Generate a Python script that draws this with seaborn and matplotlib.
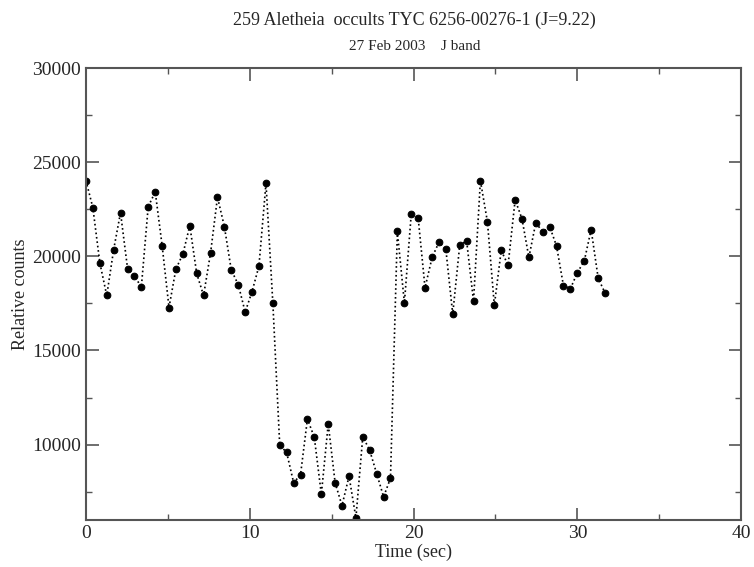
import numpy as np
import pandas as pd
import matplotlib
matplotlib.use("Agg")
import matplotlib.pyplot as plt
from matplotlib.ticker import MultipleLocator
import seaborn as sns

# occultation light curve
time_sec = [0.00, 0.42, 0.85, 1.27, 1.69, 2.11, 2.54, 2.96, 3.38, 3.80,
            4.23, 4.65, 5.07, 5.49, 5.92, 6.34, 6.76, 7.18, 7.61, 8.03,
            8.45, 8.87, 9.30, 9.72, 10.14, 10.56, 10.99, 11.41, 11.83, 12.25,
            12.68, 13.10, 13.52, 13.94, 14.37, 14.79, 15.21, 15.63, 16.06, 16.48,
            16.90, 17.32, 17.75, 18.17, 18.59, 19.01, 19.44, 19.86, 20.28, 20.70,
            21.13, 21.55, 21.97, 22.39, 22.82, 23.24, 23.66, 24.08, 24.51, 24.93,
            25.35, 25.77, 26.20, 26.62, 27.04, 27.46, 27.89, 28.31, 28.73, 29.15,
            29.58, 30.00, 30.42, 30.84, 31.27, 31.69]
counts = [24020, 22590, 19640, 17920, 20350, 22320, 19350, 18980, 18350, 22640,
          23420, 20570, 17280, 19320, 20130, 21630, 19090, 17920, 20200, 23140,
          21580, 19280, 18490, 17040, 18130, 19480, 23880, 17500, 9960, 9590,
          7970, 8410, 11360, 10390, 7360, 11100, 7980, 6760, 8320, 6110,
          10430, 9700, 8450, 7230, 8210, 21320, 17520, 22270, 22040, 18330,
          19940, 20750, 20380, 16930, 20610, 20810, 17620, 24020, 21830, 17390,
          20310, 19530, 23000, 21990, 19940, 21780, 21300, 21580, 20540, 18440,
          18290, 19140, 19750, 21420, 18840, 18050]

df = pd.DataFrame({"Time": time_sec, "Counts": counts})

sns.set_style("ticks")
plt.rcParams["font.family"] = ["Liberation Serif", "DejaVu Serif"]

fig = plt.figure(figsize=(7.54, 5.67), dpi=100)
ax = fig.add_axes([0.114, 0.083, 0.869, 0.797])

sns.lineplot(x="Time", y="Counts", data=df, ax=ax, color="black",
             linestyle=":", linewidth=1.2, marker="o", markersize=4.8,
             markeredgecolor="black", estimator=None, sort=False)

ax.set_xlim(0, 40)
ax.set_ylim(6000, 30000)
ax.xaxis.set_major_locator(MultipleLocator(10))
ax.xaxis.set_minor_locator(MultipleLocator(5))
ax.yaxis.set_major_locator(MultipleLocator(5000))
ax.yaxis.set_minor_locator(MultipleLocator(2500))
ax.tick_params(which="both", direction="in", top=True, right=True,
               labelsize=14, color="#555555")
ax.tick_params(which="major", length=9, width=1.2)
ax.tick_params(which="minor", length=4.5, width=1.0)
for s in ax.spines.values():
    s.set_color("#555555")
    s.set_linewidth(1.5)

ax.set_xlabel("Time (sec)", fontsize=13, labelpad=1)
ax.set_ylabel("Relative counts", fontsize=13, labelpad=2)

fig.text(0.55, 0.965, "259 Aletheia  occults TYC 6256-00276-1 (J=9.22)",
         ha="center", va="center", fontsize=13)
fig.text(0.55, 0.918, "27 Feb 2003    J band", ha="center", va="center",
         fontsize=11)

fig.savefig("out.png", dpi=100)
